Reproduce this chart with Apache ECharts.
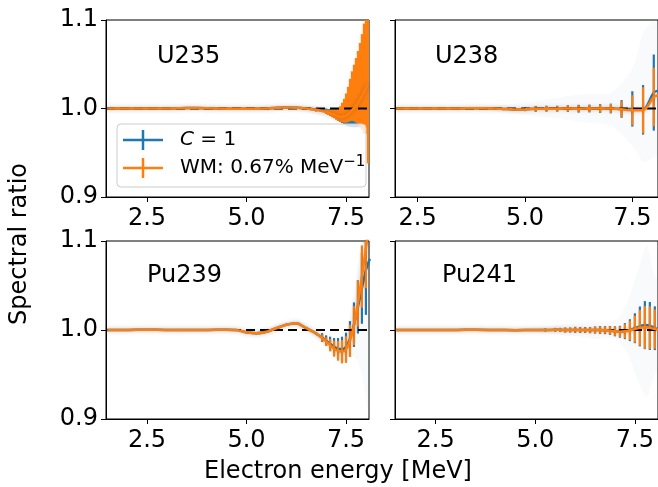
<!DOCTYPE html>
<html><head><meta charset="utf-8">
<script src="https://cdn.jsdelivr.net/npm/echarts@6/dist/echarts.min.js"></script>
<style>html,body{margin:0;padding:0;background:#fff}#c{width:658px;height:487px}</style>
</head><body><div id="c"></div><script>
// ---------------- DATA ----------------
const xTicks = [2.5, 5.0, 7.5];
const yTicks = [0.9, 1.0, 1.1];
const refValue = 1.0;
const panelNames = ['U235', 'U238', 'Pu239', 'Pu241'];
const legendBlue = '{i|C} = 1';
const legendOrange = 'WM: 0.67% MeV{s|−1}';

// U235
const u235X = [1.5,2.0,2.5,3.0,3.5,4.0,4.5,5.0,5.5,6.0,6.25,6.5,6.75,7.0,7.05,7.1,7.15,7.2,7.25,7.3,7.35,7.4,7.45,7.5,7.55,7.6,7.65,7.7,7.75,7.8,7.85,7.9,7.95,8.0,8.05];
const u235Orange = [1.0,1.0,1.0,1.0,1.0005,1.0003,0.9998,0.9997,1.0,1.001,1.0008,1.0,0.9985,0.996,0.9953,0.9945,0.9937,0.993,0.992,0.991,0.9905,0.9905,0.991,0.992,0.9935,0.9955,0.998,1.0005,1.003,1.006,1.010,1.014,1.018,1.023,1.028];
const u235Blue = [1.0,1.0,1.0,1.0,1.0005,1.0003,0.9998,0.9997,1.0,1.001,1.0008,1.0,0.9988,0.997,0.9964,0.9958,0.9951,0.9945,0.9938,0.9932,0.9928,0.9927,0.993,0.9937,0.9948,0.9962,0.998,0.9998,1.0018,1.004,1.006,1.008,1.0105,1.013,1.015];
const u235OrangeUp = [0.0003,0.0003,0.0003,0.0003,0.0004,0.0004,0.0005,0.0005,0.0006,0.001,0.0012,0.0015,0.002,0.003,0.0035,0.004,0.005,0.006,0.007,0.009,0.012,0.016,0.020,0.025,0.031,0.038,0.044,0.049,0.054,0.059,0.064,0.070,0.078,0.095,0.11];
const u235OrangeDown = [0.0003,0.0003,0.0003,0.0003,0.0004,0.0004,0.0005,0.0005,0.0006,0.001,0.0012,0.0015,0.002,0.002,0.0025,0.003,0.0035,0.004,0.0045,0.005,0.0055,0.006,0.007,0.008,0.009,0.010,0.012,0.015,0.019,0.024,0.030,0.038,0.046,0.052,0.09];
const u235BlueErr = [0.0003,0.0003,0.0003,0.0003,0.0004,0.0004,0.0005,0.0005,0.0006,0.001,0.0012,0.0015,0.002,0.003,0.003,0.0035,0.004,0.005,0.006,0.007,0.008,0.009,0.011,0.013,0.015,0.017,0.019,0.021,0.023,0.025,0.027,0.030,0.033,0.036,0.04];
const u235SpreadX = [1.5,3.0,4.0,5.0,6.0,6.5,7.0,7.3,7.6,7.9,8.1];
const u235SpreadLo = [0.999,0.9985,0.998,0.998,0.997,0.996,0.990,0.982,0.975,0.955,0.93];
const u235SpreadHi = [1.001,1.0015,1.002,1.002,1.004,1.003,1.004,1.010,1.04,1.09,1.1];

// U238
const u238X = [2.0,2.25,2.5,2.75,3.0,3.25,3.5,3.75,4.0,4.25,4.5,4.75,5.0,5.25,5.5,5.75,6.0,6.25,6.5,6.75,7.0,7.25,7.5,7.75,8.0,8.1];
const u238Orange = [1.0,1.0,1.0,1.0,1.0,1.0,1.0001,1.0002,1.0002,1.0,0.9995,0.999,0.9992,0.9996,0.9998,0.9998,1.0,0.9998,1.0,1.0,1.0,0.9992,0.998,0.998,1.013,1.015];
const u238Blue = [1.0,1.0,1.0,1.0,1.0,1.0,1.0001,1.0002,1.0002,1.0,0.9995,0.999,0.9992,0.9996,0.9998,0.9998,1.0,0.9998,1.0,1.0,1.0,0.9995,0.9995,0.9985,1.018,1.02];
const u238OrangeErr = [0,0,0,0,0,0,0,0.0005,0.0005,0.0008,0.001,0.0015,0.002,0.003,0.003,0.003,0.0035,0.004,0.004,0.0045,0.005,0.009,0.017,0.026,0.033,0];
const u238BlueErr = [0,0,0,0,0,0,0,0.0006,0.0006,0.0009,0.0011,0.0017,0.0022,0.0033,0.0033,0.0033,0.0038,0.0044,0.0044,0.005,0.0055,0.010,0.020,0.028,0.043,0];
const u238SpreadX = [2.0,3.5,4.5,5.0,5.5,6.0,6.5,7.0,7.5,7.75,8.0,8.2];
const u238SpreadLo = [0.9995,0.999,0.996,0.993,0.99,0.987,0.984,0.981,0.958,0.94,0.945,0.95];
const u238SpreadHi = [1.0005,1.001,1.004,1.007,1.01,1.014,1.016,1.018,1.045,1.085,1.1,1.1];

// Pu239
const pu239X = [1.5,2.0,2.5,3.0,3.5,4.0,4.5,4.75,5.0,5.25,5.5,5.75,6.0,6.25,6.5,6.75,6.9,7.0,7.1,7.2,7.3,7.4,7.5,7.6,7.7,7.8,7.9,8.0,8.1];
const pu239Orange = [1.0,1.0,1.0003,1.0,1.0,1.0,1.0003,1.0,0.9975,0.9963,0.998,1.002,1.0058,1.0075,1.002,0.996,0.991,0.987,0.983,0.979,0.9765,0.9755,0.978,0.988,1.005,1.03,1.06,1.092,1.12];
const pu239Blue = [1.0,1.0,1.0003,1.0,1.0,1.0,1.0003,1.0,0.9975,0.9963,0.998,1.002,1.0058,1.0075,1.002,0.996,0.9915,0.988,0.9845,0.981,0.979,0.9785,0.981,0.99,1.006,1.026,1.047,1.067,1.08];
const pu239OrangeErr = [0.0003,0.0003,0.0003,0.0003,0.0003,0.0003,0.0003,0.0005,0.001,0.001,0.001,0.001,0.001,0.001,0.001,0.001,0.004,0.005,0.007,0.009,0.011,0.013,0.015,0.018,0.022,0.026,0.035,0.045,0];
const pu239BlueErr = [0.0003,0.0003,0.0003,0.0003,0.0003,0.0003,0.0003,0.0005,0.001,0.001,0.001,0.001,0.001,0.001,0.001,0.001,0.005,0.006,0.008,0.010,0.012,0.014,0.016,0.020,0.025,0.030,0.040,0.05,0];
const pu239SpreadX = [1.5,4.5,5.25,6.25,7.0,7.4,7.7,7.9,8.1];
const pu239SpreadLo = [0.999,0.998,0.994,1.004,0.982,0.962,0.97,0.95,0.9];
const pu239SpreadHi = [1.001,1.002,0.9985,1.011,0.992,0.988,1.04,1.1,1.1];

// Pu241
const pu241X = [1.5,2.0,2.5,3.0,3.5,4.0,4.5,5.0,5.25,5.5,5.625,5.75,5.875,6.0,6.125,6.25,6.375,6.5,6.625,6.75,6.875,7.0,7.125,7.25,7.375,7.5,7.625,7.75,7.875,8.0,8.1];
const pu241Orange = [1.0,1.0,1.0,1.0,1.0003,1.0,0.9998,1.0,1.0,1.0002,1.0002,1.0,1.0,1.0002,1.0,1.0,0.9998,1.0,1.0,0.9998,0.9995,0.9985,0.998,0.9985,0.9995,1.001,1.0025,1.003,1.0025,1.001,1.0];
const pu241Blue = [1.0,1.0,1.0,1.0,1.0003,1.0,0.9998,1.0,1.0,1.0002,1.0002,1.0,1.0,1.0002,1.0,1.0,0.9998,1.0,1.0,0.9998,0.9995,0.9985,0.998,0.9987,0.9998,1.002,1.004,1.0055,1.0045,1.002,1.0];
const pu241OrangeErr = [0.0005,0.0005,0.0005,0.0005,0.0007,0.0008,0.0009,0.001,0.0015,0.002,0.002,0.0025,0.0025,0.003,0.003,0.003,0.003,0.0035,0.004,0.004,0.0045,0.005,0.006,0.008,0.011,0.015,0.02,0.024,0.024,0.022,0];
const pu241BlueErr = [0.0005,0.0005,0.0005,0.0005,0.0007,0.0008,0.0009,0.001,0.0017,0.0022,0.0022,0.0028,0.0028,0.0034,0.0034,0.0034,0.0034,0.004,0.0045,0.0045,0.005,0.0056,0.0067,0.009,0.0123,0.0168,0.0224,0.027,0.027,0.0246,0];
const pu241SpreadX = [1.5,4.0,5.0,6.0,6.5,7.0,7.3,7.6,7.8,8.0,8.2];
const pu241SpreadLo = [0.999,0.998,0.997,0.993,0.99,0.99,0.975,0.94,0.925,0.95,0.96];
const pu241SpreadHi = [1.001,1.002,1.003,1.008,1.01,1.01,1.03,1.07,1.095,1.06,1.05];

// ---------------- LAYOUT ----------------
const FONT = '"DejaVu Sans", sans-serif';
const BLUE = '#1f77b4', ORANGE = '#ff7f0e';
const panels = [
  {x:u235X, blue:u235Blue, orange:u235Orange, blueErr:u235BlueErr, orangeUp:u235OrangeUp, orangeDown:u235OrangeDown,
   sx:u235SpreadX, slo:u235SpreadLo, shi:u235SpreadHi,
   grid:{left:106, top:20, width:263, height:177}, xmin:1.47, xmax:8.078, yLab:true, lab:[157,57]},
  {x:u238X, blue:u238Blue, orange:u238Orange, blueErr:u238BlueErr, orangeUp:u238OrangeErr, orangeDown:u238OrangeErr,
   sx:u238SpreadX, slo:u238SpreadLo, shi:u238SpreadHi,
   grid:{left:395, top:20, width:264, height:177}, xmin:1.973, xmax:8.098, yLab:false, lab:[435,57]},
  {x:pu239X, blue:pu239Blue, orange:pu239Orange, blueErr:pu239BlueErr, orangeUp:pu239OrangeErr, orangeDown:pu239OrangeErr,
   sx:pu239SpreadX, slo:pu239SpreadLo, shi:pu239SpreadHi,
   grid:{left:106, top:241, width:263, height:178}, xmin:1.47, xmax:8.078, yLab:true, lab:[147,276]},
  {x:pu241X, blue:pu241Blue, orange:pu241Orange, blueErr:pu241BlueErr, orangeUp:pu241OrangeErr, orangeDown:pu241OrangeErr,
   sx:pu241SpreadX, slo:pu241SpreadLo, shi:pu241SpreadHi,
   grid:{left:395, top:241, width:264, height:178}, xmin:1.48, xmax:8.08, yLab:false, lab:[442,276]}
];

function errRender(color){
  return function(params, api){
    const cs = params.coordSys;
    const x = api.value(0), y = api.value(1), dn = api.value(2), up = api.value(3);
    const a = api.coord([x, y + up]), b = api.coord([x, y - dn]);
    if (a[0] < cs.x - 1 || a[0] > cs.x + cs.width + 1) return null;
    const top = Math.max(cs.y, Math.min(a[1], cs.y + cs.height));
    const bot = Math.max(cs.y, Math.min(b[1], cs.y + cs.height));
    if (bot - top < 0.8) return null;
    return {type:'line', shape:{x1:a[0], y1:top, x2:a[0], y2:bot}, style:{stroke:color, lineWidth:2.2}};
  };
}

const grids = [], xAxes = [], yAxes = [], series = [];
panels.forEach((p, i) => {
  grids.push(Object.assign({show:true, borderColor:'#000', borderWidth:1, backgroundColor:'#fff'}, p.grid));
  xAxes.push({type:'value', gridIndex:i, min:p.xmin, max:p.xmax,
    axisLine:{show:true, onZero:false, lineStyle:{color:'#000', width:1}},
    axisTick:{show:true, customValues:xTicks, length:5, lineStyle:{color:'#000', width:1}},
    axisLabel:{show:true, customValues:xTicks, formatter:v => Number(v).toFixed(1), fontSize:24, color:'#000', fontFamily:FONT, margin:10},
    splitLine:{show:false}});
  yAxes.push({type:'value', gridIndex:i, min:0.9, max:1.1,
    axisLine:{show:true, onZero:false, lineStyle:{color:'#000', width:1}},
    axisTick:{show:true, customValues:yTicks, length:5, lineStyle:{color:'#000', width:1}},
    axisLabel:{show:p.yLab, customValues:yTicks, formatter:v => Number(v).toFixed(1), fontSize:24, color:'#000', fontFamily:FONT, margin:8},
    splitLine:{show:false}});
  // faint spread of the individual curves
  series.push({type:'custom', xAxisIndex:i, yAxisIndex:i, clip:true, silent:true, z:1,
    data:[[p.sx[0], p.slo[0]]],
    renderItem:(params, api) => {
      const pts = [];
      for (let k = 0; k < p.sx.length; k++) pts.push(api.coord([p.sx[k], p.shi[k]]));
      for (let k = p.sx.length - 1; k >= 0; k--) pts.push(api.coord([p.sx[k], p.slo[k]]));
      return {type:'polygon', shape:{points:pts, smooth:0.25}, style:{fill:'rgba(140,160,185,0.055)'}};
    }});
  series.push({type:'custom', xAxisIndex:i, yAxisIndex:i, clip:true, silent:true, z:2,
    data:p.x.map((x, k) => [x, p.blue[k], p.blueErr[k], p.blueErr[k]]), renderItem:errRender(BLUE)});
  series.push({type:'line', xAxisIndex:i, yAxisIndex:i, showSymbol:false, smooth:0.3, z:3, silent:true,
    data:p.x.map((x, k) => [x, p.blue[k]]), lineStyle:{color:BLUE, width:2.5}});
  series.push({type:'custom', xAxisIndex:i, yAxisIndex:i, clip:true, silent:true, z:4,
    data:p.x.map((x, k) => [x, p.orange[k], p.orangeDown[k], p.orangeUp[k]]), renderItem:errRender(ORANGE)});
  series.push({type:'line', xAxisIndex:i, yAxisIndex:i, showSymbol:false, z:5, silent:true,
    data:[[p.xmin, refValue], [p.xmax, refValue]], lineStyle:{color:'#000', width:2, type:[9,5]}});
  series.push({type:'line', xAxisIndex:i, yAxisIndex:i, showSymbol:false, smooth:0.3, z:6, silent:true,
    data:p.x.map((x, k) => [x, p.orange[k]]),
    lineStyle:{color:ORANGE, width:2.5, shadowColor:'rgba(60,60,60,0.35)', shadowBlur:4}});
});

const graphics = [];
panels.forEach((p, i) => {
  graphics.push({type:'text', x:p.lab[0], y:p.lab[1], z:50,
    style:{text:panelNames[i], fontSize:24, fontFamily:FONT, fill:'#000', textAlign:'left', textVerticalAlign:'middle'}});
});
// legend
graphics.push({type:'rect', z:60, shape:{x:117, y:124, width:249, height:63, r:4},
  style:{fill:'rgba(255,255,255,0.8)', stroke:'#cccccc', lineWidth:1}});
[[BLUE, 140], [ORANGE, 168]].forEach(([c, yy], k) => {
  graphics.push({type:'line', z:61, shape:{x1:123, y1:yy, x2:163, y2:yy}, style:{stroke:c, lineWidth:2.5}});
  graphics.push({type:'line', z:61, shape:{x1:143, y1:yy - 10, x2:143, y2:yy + 10}, style:{stroke:c, lineWidth:2.5}});
});
graphics.push({type:'text', z:62, x:180, y:140, style:{text:legendBlue, fontSize:20, fontFamily:FONT, fill:'#000', textVerticalAlign:'middle',
  rich:{i:{fontStyle:'italic', fontSize:20, fontFamily:FONT, fill:'#000'}}}});
graphics.push({type:'text', z:62, x:180, y:168, style:{text:legendOrange, fontSize:20, lineHeight:26, fontFamily:FONT, fill:'#000', textVerticalAlign:'middle',
  rich:{s:{fontSize:15, fontFamily:FONT, fill:'#000', verticalAlign:'top', lineHeight:15}}}});
// axis titles
graphics.push({type:'text', z:50, x:338, y:472, style:{text:'Electron energy [MeV]', fontSize:24, fontFamily:FONT, fill:'#000', textAlign:'center', textVerticalAlign:'middle'}});
graphics.push({type:'text', z:50, x:20, y:244, rotation:Math.PI/2, style:{text:'Spectral ratio', fontSize:24, fontFamily:FONT, fill:'#000', textAlign:'center', textVerticalAlign:'middle'}});

const chart = echarts.init(document.getElementById('c'), null, {renderer:'canvas'});
chart.setOption({animation:false, backgroundColor:'#fff', grid:grids, xAxis:xAxes, yAxis:yAxes, series:series, graphic:graphics});
</script></body></html>
